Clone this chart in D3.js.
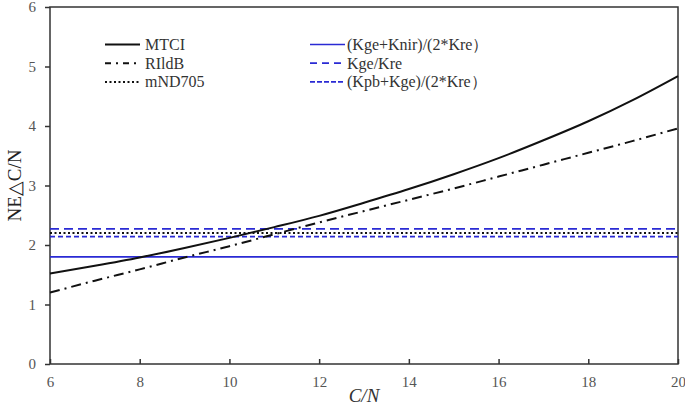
<!DOCTYPE html>
<html>
<head>
<meta charset="utf-8">
<script src="https://cdn.jsdelivr.net/npm/d3@7"></script>
<style>
  body { margin: 0; background: #fff; }
</style>
</head>
<body>
<div id="chart"></div>
<script>
// C/N values
const cn = [6, 7, 8, 9, 10, 11, 12, 13, 14, 15, 16, 17, 18, 19, 20];
// curves
const mtci  = [1.52, 1.65, 1.79, 1.95, 2.12, 2.30, 2.49, 2.71, 2.94, 3.19, 3.46, 3.76, 4.08, 4.44, 4.84];
const rildb = [1.20, 1.40, 1.59, 1.79, 1.98, 2.18, 2.38, 2.57, 2.76, 2.95, 3.15, 3.35, 3.55, 3.75, 3.96];
// constant thresholds
const mnd705 = 2.20;
const kgeKnir = 1.80;
const kgeKre = 2.27;
const kpbKge = 2.14;

const xTicks = [6, 8, 10, 12, 14, 16, 18, 20];
const yTicks = [0, 1, 2, 3, 4, 5, 6];

const FONT = "'Liberation Serif', 'Times New Roman', serif";
const width = 685, height = 407;
const margin = {top: 7, right: 7, bottom: 43, left: 50};

let svg = d3.select("#chart")
    .append("svg")
    .attr("width", width)
    .attr("height", height)
    .style("font-family", FONT);

let x = d3.scaleLinear().domain([6, 20]).range([margin.left, width - margin.right]);
let y = d3.scaleLinear().domain([0, 6]).range([height - margin.bottom, margin.top]);

// frame
svg.append("rect")
    .attr("x", x(6)).attr("y", y(6))
    .attr("width", x(20) - x(6)).attr("height", y(0) - y(6))
    .attr("fill", "none")
    .attr("stroke", "#333")
    .attr("stroke-width", 1.5);

// x axis, ticks point inward
let xa = svg.append("g")
    .attr("transform", "translate(0," + y(0) + ")")
    .call(d3.axisBottom(x).tickValues(xTicks).tickFormat(d3.format("d")).tickSizeInner(-5).tickSizeOuter(0).tickPadding(12));
xa.attr("font-family", null);
xa.select(".domain").remove();
xa.selectAll("line").attr("stroke", "#333").attr("stroke-width", 1.5);
xa.selectAll("text").attr("fill", "#555").style("font-size", "15px").style("font-family", FONT);

// y axis, ticks point outward
let ya = svg.append("g")
    .attr("transform", "translate(" + x(6) + ",0)")
    .call(d3.axisLeft(y).tickValues(yTicks).tickFormat(d3.format("d")).tickSizeInner(5).tickSizeOuter(0).tickPadding(9));
ya.attr("font-family", null);
ya.select(".domain").remove();
ya.selectAll("line").attr("stroke", "#333").attr("stroke-width", 1.5);
ya.selectAll("text").attr("fill", "#555").style("font-size", "15px").style("font-family", FONT);

// axis titles
svg.append("text")
    .text("C/N")
    .attr("x", x(13)).attr("y", 402)
    .style("text-anchor", "middle")
    .style("font-family", FONT)
    .style("font-style", "italic")
    .style("font-size", "19px")
    .attr("fill", "#333");

svg.append("text")
    .text("NE△C/N")
    .attr("transform", "translate(21," + y(3) + ")rotate(-90)")
    .style("text-anchor", "middle")
    .style("font-family", FONT)
    .style("font-size", "19px")
    .attr("fill", "#222");

// horizontal lines
const blue = "#2a2ad4";
const hlines = [
    {v: kgeKnir, color: blue, dash: null, w: 1.6},
    {v: kgeKre, color: blue, dash: "9,5", w: 1.8},
    {v: mnd705, color: "#111", dash: "2,2.5", w: 2},
    {v: kpbKge, color: blue, dash: "5,3", w: 1.8}
];
svg.selectAll("hline")
    .data(hlines)
    .enter()
    .append("line")
    .attr("x1", x(6)).attr("x2", x(20))
    .attr("y1", function(d) { return y(d.v); })
    .attr("y2", function(d) { return y(d.v); })
    .attr("stroke", function(d) { return d.color; })
    .attr("stroke-width", function(d) { return d.w; })
    .attr("stroke-dasharray", function(d) { return d.dash; });

// curves
let line = d3.line()
    .x(function(d) { return x(d[0]); })
    .y(function(d) { return y(d[1]); })
    .curve(d3.curveMonotoneX);

svg.append("path")
    .datum(cn.map(function(c, i) { return [c, mtci[i]]; }))
    .attr("d", line)
    .attr("fill", "none")
    .attr("stroke", "#111")
    .attr("stroke-width", 2);

svg.append("path")
    .datum(cn.map(function(c, i) { return [c, rildb[i]]; }))
    .attr("d", line)
    .attr("fill", "none")
    .attr("stroke", "#111")
    .attr("stroke-width", 2)
    .attr("stroke-dasharray", "10,5,2,5");

// legend
const legend = [
    {label: "MTCI", color: "#111", dash: null, w: 2, col: 0, row: 0},
    {label: "RIldB", color: "#111", dash: "6,5,2,5", w: 2, col: 0, row: 1},
    {label: "mND705", color: "#111", dash: "2,2.5", w: 2, col: 0, row: 2},
    {label: "(Kge+Knir)/(2*Kre）", color: blue, dash: null, w: 1.6, col: 1, row: 0},
    {label: "Kge/Kre", color: blue, dash: "7,5", w: 1.8, col: 1, row: 1},
    {label: "(Kpb+Kge)/(2*Kre）", color: blue, dash: "5,2", w: 1.8, col: 1, row: 2}
];
let lg = svg.selectAll("lg")
    .data(legend)
    .enter()
    .append("g")
    .attr("transform", function(d) { return "translate(" + (d.col ? 310 : 105) + "," + (44.5 + d.row * 18.7) + ")"; });
lg.append("line")
    .attr("x1", 0).attr("x2", 35).attr("y1", 0).attr("y2", 0)
    .attr("stroke", function(d) { return d.color; })
    .attr("stroke-width", function(d) { return d.w; })
    .attr("stroke-dasharray", function(d) { return d.dash; });
lg.append("text")
    .text(function(d) { return d.label; })
    .attr("x", function(d) { return d.col ? 37 : 40; })
    .attr("y", 5.5)
    .style("font-family", FONT)
    .style("font-size", "16px")
    .attr("fill", "#333");
</script>
</body>
</html>
